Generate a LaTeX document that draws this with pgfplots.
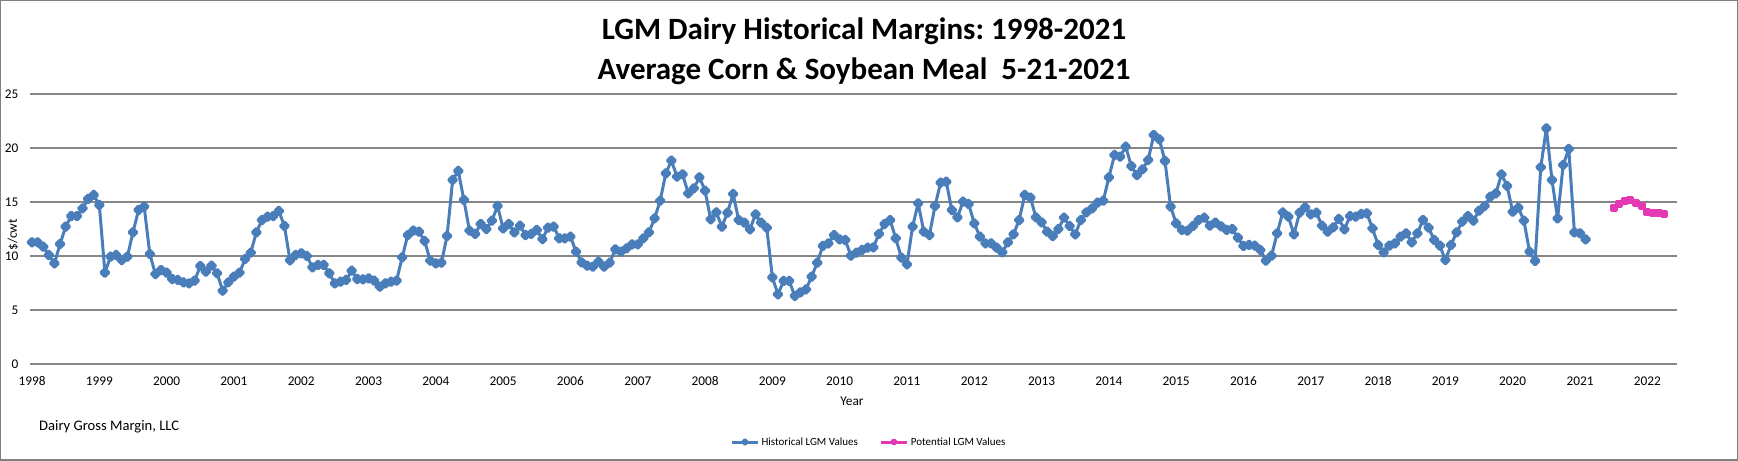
\documentclass[border=0pt]{standalone}
\usepackage{fontspec}
\setmainfont{Carlito}
\usepackage{pgfplots}
\pgfplotsset{compat=1.18}
\definecolor{histblue}{RGB}{74,126,187}
\definecolor{potpink}{RGB}{229,57,179}
\definecolor{gridgray}{RGB}{134,134,134}
\definecolor{framegray}{RGB}{128,128,128}
\frenchspacing
\begin{document}
\begin{tikzpicture}[x=1bp,y=1bp]
\path[use as bounding box] (0,0) rectangle (1738,461);
\draw[framegray, line width=1.5bp] (0.75,0.75) rectangle (1737.25,460.25);
\node[anchor=base, font=\fontsize{31bp}{40bp}\selectfont\bfseries] at (864,421) {LGM Dairy Historical Margins: 1998-2021};
\node[anchor=base, font=\fontsize{31bp}{40bp}\selectfont\bfseries] at (864,381) {Average Corn \& Soybean Meal\ \ 5-21-2021};
\begin{axis}[
  at={(30bp,97bp)}, anchor=south west, scale only axis,
  width=1647bp, height=270bp,
  xmin=-0.36, xmax=293.3, ymin=0, ymax=25,
  clip=false,
  axis line style={draw=none},
  tick style={draw=none},
  ymajorgrids, grid style={gridgray, line width=1.3bp},
  ytick={0,5,10,15,20,25},
  xtick={0,12,...,288},
  xticklabels={1998,1999,2000,2001,2002,2003,2004,2005,2006,2007,2008,2009,2010,2011,2012,2013,2014,2015,2016,2017,2018,2019,2020,2021,2022},
  /pgf/number format/assume math mode=true,
  ticklabel style={font=\fontsize{13.3bp}{16bp}\selectfont},
  xticklabel style={anchor=base, yshift=-22bp},
  yticklabel style={anchor=east, xshift=-8bp},
  legend columns=2,
  legend style={at={(axis description cs:0.5094,-0.289)}, anchor=center, draw=none, fill=none,
    font=\fontsize{11bp}{13bp}\selectfont, inner sep=0pt, nodes={inner sep=2bp},
    /tikz/every even column/.append style={column sep=20bp}},
  legend image code/.code={\draw[mark repeat=2,mark phase=2,#1,mark size=1.6bp] plot coordinates {(0bp,0bp) (13bp,0bp) (26bp,0bp)};},
]
\addplot[histblue, line width=3bp, line join=round, mark=square*, mark size=2.8bp, mark options={rotate=45, solid}] coordinates {
(0,11.27) (1,11.27) (2,10.86) (3,10.09) (4,9.32) (5,11.11) (6,12.72) (7,13.70) (8,13.70) (9,14.41) (10,15.28) (11,15.65)
(12,14.72) (13,8.46) (14,9.94) (15,10.09) (16,9.63) (17,9.94) (18,12.19) (19,14.26) (20,14.57) (21,10.19) (22,8.33) (23,8.70)
(24,8.46) (25,7.87) (26,7.78) (27,7.56) (28,7.47) (29,7.72) (30,9.07) (31,8.55) (32,9.10) (33,8.40) (34,6.79) (35,7.56)
(36,8.09) (37,8.46) (38,9.72) (39,10.31) (40,12.19) (41,13.33) (42,13.64) (43,13.70) (44,14.17) (45,12.78) (46,9.60) (47,10.09)
(48,10.25) (49,10.00) (50,8.95) (51,9.17) (52,9.17) (53,8.40) (54,7.47) (55,7.62) (56,7.78) (57,8.64) (58,7.87) (59,7.84)
(60,7.93) (61,7.72) (62,7.16) (63,7.47) (64,7.62) (65,7.72) (66,9.88) (67,11.94) (68,12.35) (69,12.25) (70,11.39) (71,9.57)
(72,9.32) (73,9.38) (74,11.85) (75,17.04) (76,17.87) (77,15.19) (78,12.35) (79,12.04) (80,12.96) (81,12.50) (82,13.27) (83,14.63)
(84,12.56) (85,12.96) (86,12.19) (87,12.81) (88,11.94) (89,12.04) (90,12.41) (91,11.57) (92,12.62) (93,12.72) (94,11.64) (95,11.64)
(96,11.79) (97,10.40) (98,9.41) (99,9.10) (100,9.01) (101,9.48) (102,9.01) (103,9.38) (104,10.62) (105,10.40) (106,10.71) (107,11.08)
(108,11.08) (109,11.64) (110,12.19) (111,13.49) (112,15.12) (113,17.65) (114,18.83) (115,17.35) (116,17.56) (117,15.80) (118,16.27) (119,17.28)
(120,16.05) (121,13.40) (122,14.04) (123,12.72) (124,14.01) (125,15.74) (126,13.33) (127,13.09) (128,12.47) (129,13.86) (130,13.09) (131,12.62)
(132,8.02) (133,6.45) (134,7.69) (135,7.69) (136,6.30) (137,6.64) (138,6.91) (139,8.09) (140,9.38) (141,10.93) (142,11.17) (143,11.94)
(144,11.54) (145,11.48) (146,10.03) (147,10.31) (148,10.56) (149,10.77) (150,10.80) (151,12.04) (152,12.96) (153,13.33) (154,11.64) (155,9.85)
(156,9.23) (157,12.72) (158,14.88) (159,12.25) (160,11.94) (161,14.63) (162,16.79) (163,16.88) (164,14.26) (165,13.58) (166,15.03) (167,14.81)
(168,13.02) (169,11.79) (170,11.17) (171,11.17) (172,10.77) (173,10.34) (174,11.27) (175,12.01) (176,13.33) (177,15.65) (178,15.40) (179,13.58)
(180,13.12) (181,12.25) (182,11.85) (183,12.50) (184,13.55) (185,12.78) (186,12.01) (187,13.33) (188,14.04) (189,14.41) (190,14.94) (191,15.12)
(192,17.28) (193,19.35) (194,19.20) (195,20.12) (196,18.33) (197,17.50) (198,18.02) (199,18.89) (200,21.20) (201,20.80) (202,18.80) (203,14.57)
(204,13.02) (205,12.41) (206,12.35) (207,12.78) (208,13.33) (209,13.55) (210,12.81) (211,13.09) (212,12.75) (213,12.41) (214,12.50) (215,11.70)
(216,10.93) (217,11.02) (218,10.96) (219,10.56) (220,9.57) (221,10.03) (222,12.10) (223,14.04) (224,13.64) (225,12.01) (226,14.01) (227,14.51)
(228,13.86) (229,14.01) (230,12.81) (231,12.25) (232,12.65) (233,13.43) (234,12.47) (235,13.70) (236,13.64) (237,13.89) (238,13.95) (239,12.56)
(240,11.02) (241,10.34) (242,10.96) (243,11.17) (244,11.79) (245,12.10) (246,11.27) (247,12.10) (248,13.33) (249,12.62) (250,11.48) (251,10.96)
(252,9.63) (253,11.02) (254,12.19) (255,13.18) (256,13.70) (257,13.27) (258,14.20) (259,14.63) (260,15.49) (261,15.80) (262,17.56) (263,16.48)
(264,14.10) (265,14.48) (266,13.27) (267,10.40) (268,9.54) (269,18.21) (270,21.82) (271,17.04) (272,13.49) (273,18.43) (274,19.91) (275,12.19)
(276,12.10) (277,11.54)
};
\addlegendentry{Historical LGM Values}
\addplot[potpink, line width=3bp, line join=round, mark=square*, mark size=2.5bp, mark options={solid}] coordinates {
(282,14.41) (283,14.81) (284,15.12) (285,15.19) (286,14.94) (287,14.66) (288,14.10) (289,13.95) (290,13.95) (291,13.86)
};
\addlegendentry{Potential LGM Values}
\end{axis}
\node[anchor=base, font=\fontsize{13.3bp}{16bp}\selectfont] at (852,55) {Year};
\node[rotate=90, font=\fontsize{13.3bp}{16bp}\selectfont] at (13,226) {\$/cwt};
\node[anchor=base west, inner sep=0pt, font=\fontsize{14.6bp}{17bp}\selectfont] at (39,30) {Dairy Gross Margin, LLC};
\end{tikzpicture}
\end{document}
